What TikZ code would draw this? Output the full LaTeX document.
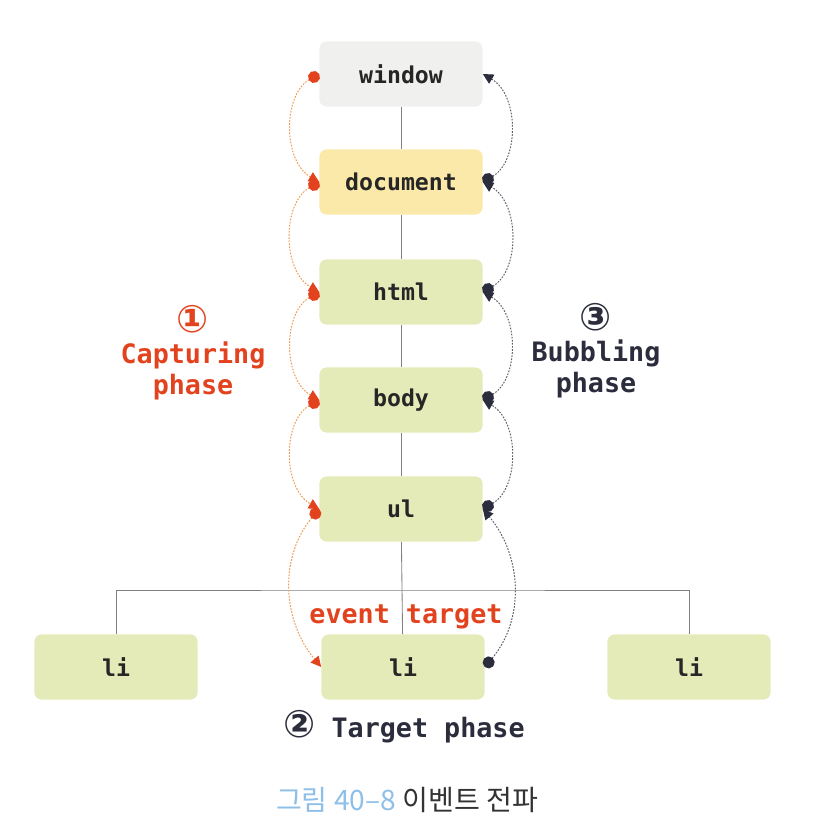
\documentclass[tikz,border=0pt]{standalone}
\usepackage{fontspec}
\setmonofont{DejaVu Sans Mono}
\newfontfamily\cjkfont{Noto Sans CJK KR}
\newfontfamily\circfont{DejaVu Sans}
\usepackage{xcolor}
\usetikzlibrary{arrows.meta,positioning}

\definecolor{winfill}{HTML}{F0F0EE}
\definecolor{docfill}{HTML}{FAE9A8}
\definecolor{elemfill}{HTML}{E5EBB8}
\definecolor{capred}{HTML}{E2431E}
\definecolor{capline}{HTML}{EE9A50}
\definecolor{bubdark}{HTML}{2B2D3C}
\definecolor{bubline}{HTML}{5E5E70}
\definecolor{capblue}{HTML}{8DBFE8}
\definecolor{treeline}{HTML}{808080}

\begin{document}
\begin{tikzpicture}[
  x=0.025cm, y=0.025cm,
  elem/.style={
    rounded corners=5pt, fill=elemfill, align=center,
    minimum height=1.625cm, minimum width=4.075cm, inner sep=0pt,
    font=\fontsize{16.5pt}{18pt}\ttfamily\bfseries, text=black!85
  },
  winelem/.style={elem, fill=winfill},
  docelem/.style={elem, fill=docfill},
  tree/.style={treeline, line width=0.6pt},
  flowline/.style={line width=0.7pt, dash pattern=on 1.2pt off 1pt},
  captureflow/.style={flowline, capline,
    {Circle[color=capred,length=3mm]}-{Triangle[color=capred,length=2.6mm,width=2.6mm]}},
  bubbleflow/.style={flowline, bubline,
    {Circle[color=bubdark,length=3mm]}-{Triangle[color=bubdark,length=2.6mm,width=2.6mm]}},
  phaselbl/.style={font=\fontsize{19pt}{22pt}\ttfamily\bfseries, align=center}
]
\useasboundingbox (0,0) rectangle (814,-834);

% ---- DOM tree, top to bottom ----
\node[winelem] (window) at (401,-74) {window};
\node[docelem] (document) at (401,-182) {document};
\node[elem] (html) at (401,-292) {html};
\node[elem] (body) at (401,-400) {body};
\node[elem] (ul) at (401,-509) {ul};
\node[elem] (li) at (403,-667) {li};
\node[elem] (lileft) at (116,-667) {li};
\node[elem] (liright) at (689,-667) {li};

% ---- tree edges ----
\draw[tree] (window) -- (document);
\draw[tree] (document) -- (html);
\draw[tree] (html) -- (body);
\draw[tree] (body) -- (ul);
\draw[tree] (ul) -- (li);
\coordinate (bar) at (403,-590);
\draw[tree] (lileft.north) |- (bar) -| (liright.north);

% ---- capturing phase: down the left side ----
\draw[captureflow] (window.west) to[out=210,in=150] (document.west);
\draw[captureflow] (document.west) to[out=210,in=150] (html.west);
\draw[captureflow] (html.west) to[out=210,in=150] (body.west);
\draw[captureflow] (body.west) to[out=210,in=150] (ul.west);
\draw[captureflow] (ul.west) to[out=230,in=130] (li.west);

% ---- bubbling phase: up the right side ----
\draw[bubbleflow] (li.east) to[out=50,in=-50] (ul.east);
\draw[bubbleflow] (ul.east) to[out=30,in=-30] (body.east);
\draw[bubbleflow] (body.east) to[out=30,in=-30] (html.east);
\draw[bubbleflow] (html.east) to[out=30,in=-30] (document.east);
\draw[bubbleflow] (document.east) to[out=30,in=-30] (window.east);

% ---- phase labels ----
\node[phaselbl, text=capred] (caplbl) at (193,-353)
  {{\circfont\fontsize{27pt}{22pt}\selectfont ①}\\Capturing\\phase};
\node[phaselbl, text=bubdark] (bublbl) at (596,-351)
  {{\circfont\fontsize{27pt}{22pt}\selectfont ③}\\Bubbling\\phase};
\node[phaselbl, text=capred] (targetlbl) at (406,-617) {event target};
\node[phaselbl, text=bubdark] (tgtphase) at (404,-727)
  {{\circfont\fontsize{27pt}{22pt}\selectfont ②} Target phase};

% ---- caption ----
\node[font=\cjkfont\fontsize{20pt}{22pt}\selectfont, text=black!80] (caption) at (407,-800)
  {\textcolor{capblue}{그림 40–8} 이벤트 전파};

\end{tikzpicture}
\end{document}
